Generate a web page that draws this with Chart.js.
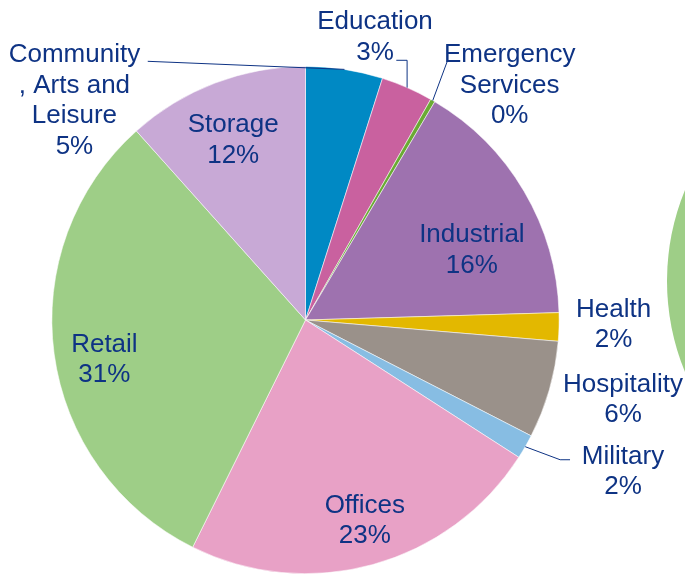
<!DOCTYPE html>
<html>
<head>
<meta charset="utf-8">
<script src="https://cdn.jsdelivr.net/npm/chart.js@4/dist/chart.umd.min.js"></script>
<style>
  html, body { margin:0; padding:0; background:#fff; overflow:hidden; }
  #wrap { position:relative; width:685px; height:574px; overflow:hidden; }
  #box { position:absolute; left:0; top:0; width:685px; height:574px; }
  #neighbour { position:absolute; left:667px; top:42px; width:478px; height:478px; border-radius:50%; background:#9ECE87; }
</style>
</head>
<body>
<div id="wrap">
  <div id="neighbour"></div>
  <div id="box"><canvas id="c"></canvas></div>
</div>
<script>
// ---- data ----
const categories = ["Community\n, Arts and\nLeisure", "Education", "Emergency\nServices", "Industrial", "Health", "Hospitality", "Military", "Offices", "Retail", "Storage"];
const shares = [4.9, 3.3, 0.3, 16.0, 1.8, 6.2, 1.55, 23.2, 31.0, 11.6];

// ---- style ----
const colors = ["#0089C4", "#C9619F", "#6AAA33", "#9E72AF", "#E3B800", "#9A918A", "#87BDE3", "#E8A1C6", "#9ECE87", "#C8A9D6"];
const textColor = "#0E3384";
const FONT = '26px "Liberation Sans", Arial, sans-serif';
const LINE = 30.5;
// label anchor (text centre x, first baseline y) relative to pie centre, in units of radius
const labelPos = [
  [-0.911, -1.016], [0.274, -1.146], [0.805, -1.016], [0.656, -0.307], [1.215, -0.012],
  [1.252, 0.283], [1.252, 0.567], [0.234, 0.760], [-0.793, 0.126], [-0.285, -0.740]
];
// leader lines: points after the arc mid-point, relative to centre in radius units
// 'v' means corner at (arc.x, end.y)
const leaders = {
  0: {pts: [[-0.622, -1.020]]},
  1: {corner: 'v', pts: [[0.358, -1.024]]},
  2: {pts: [[0.559, -1.020]]},
  6: {pts: [[1.004, 0.551], [1.043, 0.551]]}
};

const total = shares.reduce((a, b) => a + b, 0);
const pctLabels = shares.map(v => Math.round(v / total * 100) + "%");

const labelPlugin = {
  id: 'pieLabels',
  afterDatasetsDraw(chart) {
    const ctx = chart.ctx;
    const meta = chart.getDatasetMeta(0);
    ctx.save();
    ctx.font = FONT;
    ctx.fillStyle = textColor;
    ctx.strokeStyle = textColor;
    ctx.lineWidth = 1;
    ctx.textAlign = 'center';
    ctx.textBaseline = 'alphabetic';
    meta.data.forEach((arc, i) => {
      const p = arc.getProps(['x', 'y', 'startAngle', 'endAngle', 'outerRadius'], true);
      const R = p.outerRadius;
      const mid = (p.startAngle + p.endAngle) / 2;
      const ax = p.x + R * Math.cos(mid), ay = p.y + R * Math.sin(mid);
      const L = leaders[i];
      if (L) {
        ctx.beginPath();
        ctx.moveTo(ax, ay);
        const pts = L.pts.map(q => [p.x + q[0] * R, p.y + q[1] * R]);
        if (L.corner === 'v') ctx.lineTo(ax, pts[0][1]);
        pts.forEach(q => ctx.lineTo(q[0], q[1]));
        ctx.stroke();
      }
      const lines = categories[i].split("\n").concat([pctLabels[i]]);
      const cx = p.x + labelPos[i][0] * R;
      const by = p.y + labelPos[i][1] * R;
      lines.forEach((t, k) => ctx.fillText(t, cx, by + k * LINE));
    });
    ctx.restore();
  }
};

new Chart(document.getElementById('c'), {
  type: 'pie',
  data: {
    labels: categories.map(s => s.replace(/\n/g, ' ')),
    datasets: [{
      data: shares,
      backgroundColor: colors,
      borderColor: 'rgba(255,255,255,0.7)',
      borderWidth: 0.75,
      hoverOffset: 0
    }]
  },
  options: {
    responsive: true,
    maintainAspectRatio: false,
    animation: false,
    layout: { padding: { left: 51, right: 125, top: 66, bottom: 0 } },
    plugins: { legend: { display: false }, tooltip: { enabled: false } }
  },
  plugins: [labelPlugin]
});
</script>
</body>
</html>
